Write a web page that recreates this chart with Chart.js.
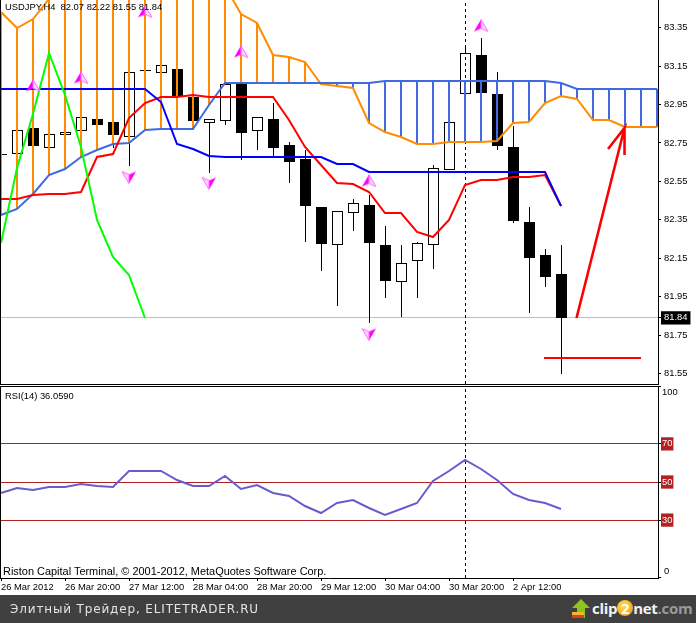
<!DOCTYPE html>
<html>
<head>
<meta charset="utf-8">
<title>USDJPY H4</title>
<script src="https://cdn.jsdelivr.net/npm/chart.js@4"></script>
<style>
    html, body { margin: 0; padding: 0; background: #fff; }
    #page { position: relative; width: 696px; height: 623px; overflow: hidden; font-family: "Liberation Sans", sans-serif; }
    canvas { position: absolute; left: 0; }
    .rule { position: absolute; background: #000; }
    .label { position: absolute; white-space: nowrap; color: #000; font-size: 9.4px; line-height: 12px; }
    #footer { position: absolute; left: 0; top: 595px; width: 696px; height: 28px; background: #404040; }
    #footer-title { position: absolute; left: 10px; top: 6px; color: #e4e4e4; font: 12px/16px "DejaVu Sans", sans-serif; letter-spacing: 0.85px; white-space: nowrap; }
    #logo { position: absolute; left: 592px; top: 2px; font: bold 15px/22px "Open Sans", sans-serif; color: #f2f2f2; white-space: nowrap; letter-spacing: -0.3px; }
    #logo .two { display: inline-block; width: 16px; height: 16px; line-height: 16px; text-align: center; border-radius: 8px; color: #fff; background: radial-gradient(circle at 40% 35%, #ffe14a, #f28a1c); }
    #logo .com { color: #9a9a9a; }
    #logo-icon { position: absolute; left: 571px; top: 3px; }
</style>
</head>
<body>
<div id="page">
    <canvas id="priceChart" width="696" height="384" style="top:0"></canvas>
    <canvas id="rsiChart" width="696" height="209" style="top:386px"></canvas>
    <div class="rule" style="left:0;top:0;width:1px;height:385px"></div>
    <div class="rule" style="left:0;top:384px;width:659px;height:1px"></div>
    <div class="rule" style="left:0;top:386px;width:659px;height:1px"></div>
    <div class="rule" style="left:0;top:386px;width:1px;height:192px"></div>
    <div class="label" style="left:5px;top:1px">USDJPY,H4&nbsp; 82.07 82.22 81.55 81.84</div>
    <div class="label" style="left:5px;top:390px">RSI(14) 36.0590</div>
    <div class="label" style="left:3px;top:565px;font-size:10.95px">Riston Capital Terminal, © 2001-2012, MetaQuotes Software Corp.</div>
    <div id="footer">
        <div id="footer-title">Элитный Трейдер, ELITETRADER.RU</div>
        <svg id="logo-icon" width="20" height="22" viewBox="0 0 20 22">
            <path d="M10 1 L19 10 L14 10 L14 20 L6 20 L6 10 L1 10 Z" fill="#8fc31f"/>
            <rect x="1" y="14" width="12" height="3" fill="#f5b52e"/>
            <rect x="1" y="17" width="12" height="3" fill="#d8431c"/>
        </svg>
        <div id="logo">clip<span class="two">2</span>net<span class="com">.com</span></div>
    </div>
</div>

<script>
// bar number on the time axis, one bar every 4 hours
const barIndex = [...Array(36).keys()];
const cloudIndex = [...Array(42).keys()];

const opens = [82.688, 82.693, 82.828, 82.724, 82.794, 82.812, 82.875, 82.859, 82.781, 83.125, 83.114, 83.135, 82.989, 82.854, 82.864, 83.057, 82.812, 82.875, 82.740, 82.667, 82.417, 82.219, 82.386, 82.427, 82.219, 82.027, 82.136, 82.219, 82.609, 83.005, 83.208, 83.005, 82.729, 82.339, 82.167, 82.07];
const highs = [82.693, 82.818, 82.828, 82.797, 82.805, 82.885, 82.875, 82.859, 83.119, 83.129, 83.156, 83.135, 82.989, 82.875, 83.057, 83.057, 82.885, 82.958, 82.755, 82.714, 82.417, 82.396, 82.459, 82.479, 82.318, 82.219, 82.235, 82.636, 82.859, 83.255, 83.296, 83.119, 82.838, 82.417, 82.198, 82.22];
const lows = [82.688, 82.693, 82.734, 82.724, 82.794, 82.812, 82.844, 82.724, 82.630, 83.125, 83.114, 82.995, 82.864, 82.594, 82.844, 82.662, 82.714, 82.677, 82.542, 82.235, 82.084, 81.902, 82.292, 81.813, 81.943, 81.845, 81.943, 82.094, 82.609, 83.005, 83.010, 82.714, 82.334, 81.865, 82.001, 81.55];
const closes = [82.693, 82.818, 82.734, 82.797, 82.805, 82.885, 82.844, 82.792, 83.119, 83.129, 83.156, 82.995, 82.864, 82.875, 83.057, 82.802, 82.885, 82.724, 82.651, 82.422, 82.224, 82.396, 82.438, 82.230, 82.032, 82.126, 82.230, 82.620, 82.859, 83.218, 83.010, 82.734, 82.344, 82.152, 82.053, 81.84];

// Ichimoku lines
const spanA = [83.432, 83.348, 83.395, 83.499, 83.56, 83.60, 83.62, 83.64, 83.64, 83.64, 83.62, 83.60, 83.58, 83.56, 83.567, 83.421, 83.374, 83.208, 83.197, 83.171, 83.057, 83.047, 83.034, 82.854, 82.807, 82.781, 82.745, 82.745, 82.755, 82.755, 82.755, 82.760, 82.854, 82.859, 82.958, 82.995, 82.979, 82.870, 82.870, 82.833, 82.833, 82.833];
const spanB = [82.375, 82.407, 82.485, 82.583, 82.615, 82.677, 82.714, 82.745, 82.750, 82.818, 82.823, 82.823, 82.823, 82.948, 83.062, 83.062, 83.062, 83.062, 83.062, 83.062, 83.062, 83.062, 83.062, 83.062, 83.073, 83.073, 83.073, 83.073, 83.073, 83.073, 83.073, 83.073, 83.073, 83.073, 83.073, 83.062, 83.031, 83.031, 83.031, 83.031, 83.031, 83.031];
const tenkan = [82.459, 82.459, 82.479, 82.484, 82.484, 82.495, 82.677, 82.693, 82.880, 82.958, 82.989, 82.989, 83.000, 82.989, 82.989, 82.989, 82.989, 82.989, 82.870, 82.729, 82.635, 82.542, 82.537, 82.495, 82.386, 82.386, 82.287, 82.261, 82.349, 82.531, 82.557, 82.557, 82.573, 82.573, 82.583, 82.422];
const kijun = [83.031, 83.031, 83.031, 83.031, 83.031, 83.031, 83.031, 83.031, 83.031, 83.031, 82.963, 82.745, 82.719, 82.682, 82.677, 82.677, 82.677, 82.677, 82.677, 82.677, 82.677, 82.641, 82.641, 82.599, 82.599, 82.599, 82.599, 82.599, 82.599, 82.599, 82.599, 82.599, 82.599, 82.599, 82.599, 82.422];
const chikou = [82.230, 82.620, 82.900, 83.218, 83.000, 82.729, 82.349, 82.157, 82.063, 81.84];

// fractal markers
const upFractalBars = [2, 5, 9, 15, 23, 30];
const upFractalPrices = [83.047, 83.088, 83.432, 83.223, 82.552, 83.359];
const downFractalBars = [8, 13, 23];
const downFractalPrices = [82.573, 82.542, 81.756];

// hand drawn marks on the screenshot
const supportBars = [33.94, 40];
const supportPrices = [81.631, 81.631];
const arrowBars = [35.97, 38.97, 37.94, 38.97, 38.97];
const arrowPrices = [81.84, 82.828, 82.719, 82.828, 82.687];

const rsiValues = [44.4, 46.7, 45.6, 47.2, 47.2, 48.8, 48.1, 47.2, 55.6, 55.6, 55.6, 51.2, 47.7, 47.7, 53.0, 46.5, 48.2, 44.2, 42.8, 37.5, 33.9, 39.1, 40.4, 36.5, 32.8, 36.0, 38.9, 50.4, 55.6, 61.4, 56.8, 50.9, 43.7, 40.5, 39.1, 36.059];

const priceTicks = [83.35, 83.15, 82.95, 82.75, 82.55, 82.35, 82.15, 81.95, 81.84, 81.75, 81.55];
const rsiTicks = [100, 70, 50, 30, 0];
const rsiLevels = [70, 50, 30];
const timeTickBars = [0, 4, 8, 12, 16, 20, 24, 28, 32];
const timeTickLabels = ['26 Mar 2012', '26 Mar 20:00', '27 Mar 12:00', '28 Mar 04:00', '28 Mar 20:00', '29 Mar 12:00', '30 Mar 04:00', '30 Mar 20:00', '2 Apr 12:00'];
const crosshairBar = 29;
const lastClose = 81.84;

const AXIS_FONT = { family: '"Liberation Sans", sans-serif', size: 9.4 };
const BAR_SHIFT = 0.03125; // candles sit half a pixel right of the line knots

// the terminal draws without antialiasing, so snap marks to whole pixels
const snapToPixels = {
    id: 'snapToPixels',
    afterDatasetsUpdate(chart) {
        chart.data.datasets.forEach((ds, i) => {
            const meta = chart.getDatasetMeta(i);
            meta.data.forEach(el => {
                if (meta.type === 'bar') {
                    const top = Math.round(Math.min(el.y, el.base));
                    const bottom = Math.round(Math.max(el.y, el.base));
                    el.y = top;
                    el.base = bottom === top ? top + 1 : bottom;
                    el.height = el.base - el.y;
                } else if (meta.type === 'line') {
                    el.y = Math.round(el.y);
                }
            });
        });
    }
};
Chart.register(snapToPixels);

function fractalIcon(up) {
    const c = document.createElement('canvas');
    c.width = 16;
    c.height = 15;
    const g = c.getContext('2d');
    const tip = up ? 1 : 14, base = up ? 13 : 2, notch = up ? 10 : 5;
    // solid half
    g.fillStyle = '#ff00ff';
    g.beginPath();
    if (up) {
        g.moveTo(8, tip); g.lineTo(1, base); g.lineTo(8, notch);
    } else {
        g.moveTo(8, tip); g.lineTo(15, base); g.lineTo(8, notch);
    }
    g.closePath();
    g.fill();
    // light half
    g.fillStyle = '#ffd6ff';
    g.strokeStyle = '#ff66ff';
    g.lineWidth = 1;
    g.beginPath();
    if (up) {
        g.moveTo(8, tip); g.lineTo(15, base); g.lineTo(8, notch);
    } else {
        g.moveTo(8, tip); g.lineTo(1, base); g.lineTo(8, notch);
    }
    g.closePath();
    g.fill();
    g.stroke();
    return c;
}

function zip(xs, ys) {
    return xs.map((x, i) => ({ x: x, y: ys[i] }));
}

function lineSet(data, color, width, order, extra) {
    return Object.assign({
        type: 'line',
        data: data,
        borderColor: color,
        borderWidth: width,
        pointRadius: 0,
        tension: 0,
        fill: false,
        order: order
    }, extra || {});
}

function barSet(data, thickness, fill, stroke, order) {
    return {
        type: 'bar',
        data: data,
        barThickness: thickness,
        grouped: false,
        backgroundColor: fill,
        borderColor: stroke,
        borderWidth: stroke ? 1 : 0,
        borderSkipped: false,
        inflateAmount: 0,
        order: order
    };
}

function fixedAxisSize(scale, width, height) {
    if (width) scale.width = width;
    if (height !== undefined && height !== null) scale.height = height;
    scale.paddingTop = scale.paddingBottom = scale.paddingLeft = scale.paddingRight = 0;
}

const commonX = { type: 'linear', min: -0.0625, max: 41.0625, offset: false };

// Price panel
new Chart(document.getElementById('priceChart'), {
    data: {
        datasets: [
            lineSet(zip(supportBars, supportPrices), '#ff0000', 2, 1),
            lineSet(zip(arrowBars, arrowPrices), '#ff0000', 2.6, 1),
            {
                type: 'scatter',
                data: zip(upFractalBars, upFractalPrices),
                pointStyle: fractalIcon(true),
                order: 2
            },
            {
                type: 'scatter',
                data: zip(downFractalBars, downFractalPrices),
                pointStyle: fractalIcon(false),
                order: 2
            },
            lineSet(zip(barIndex.slice(0, chikou.length), chikou), '#00ff00', 2, 3),
            lineSet(zip(barIndex, kijun), '#0000ff', 2, 4),
            lineSet(zip(barIndex, tenkan), '#ff0000', 2, 5),
            lineSet(zip(cloudIndex, spanB), '#4169e1', 2, 6),
            lineSet(zip(cloudIndex, spanA), '#ff8c00', 2, 7),
            barSet(cloudIndex.map(i => ({ x: i, y: [spanA[i], spanB[i]] })), 2,
                cloudIndex.map(i => spanA[i] > spanB[i] ? '#ff8c00' : '#4169e1'), null, 8),
            lineSet(zip([crosshairBar + BAR_SHIFT, crosshairBar + BAR_SHIFT], [81.496, 83.494]), '#000', 1, 9, { borderDash: [3, 3] }),
            barSet(barIndex.map(i => ({ x: i + BAR_SHIFT, y: [opens[i], closes[i]] })), 11,
                barIndex.map(i => closes[i] >= opens[i] ? '#fff' : '#000'), '#000', 10),
            barSet(barIndex.map(i => ({ x: i + BAR_SHIFT, y: [lows[i], highs[i]] })), 1, '#000', null, 11)
        ]
    },
    options: {
        responsive: false,
        animation: false,
        layout: { padding: 0, autoPadding: false },
        plugins: { legend: { display: false }, tooltip: { enabled: false } },
        scales: {
            x: Object.assign({
                afterFit: s => fixedAxisSize(s, null, 0),
                border: { display: false },
                grid: { display: false },
                ticks: { display: false }
            }, commonX),
            y: {
                position: 'right',
                min: 81.496,
                max: 83.494,
                afterBuildTicks: s => { s.ticks = priceTicks.map(v => ({ value: v })); },
                afterFit: s => fixedAxisSize(s, 38),
                border: { color: '#000' },
                grid: {
                    color: ctx => ctx.tick && ctx.tick.value === lastClose ? '#c0c0c0' : 'transparent',
                    tickColor: '#000',
                    tickLength: 3
                },
                ticks: {
                    autoSkip: false,
                    padding: 3,
                    font: AXIS_FONT,
                    color: ctx => ctx.tick.value === lastClose ? '#fff' : '#000',
                    showLabelBackdrop: ctx => ctx.tick.value === lastClose,
                    backdropColor: '#000',
                    backdropPadding: { x: 3, y: 1 },
                    callback: v => v.toFixed(2)
                }
            }
        }
    }
});

// 0 and 100 are pushed inside the panel by the terminal
const edgeLabels = {
    id: 'edgeLabels',
    afterDraw(chart) {
        const g = chart.ctx, y = chart.scales.y;
        g.save();
        g.font = '9.4px "Liberation Sans", sans-serif';
        g.fillStyle = '#000';
        g.textBaseline = 'middle';
        g.fillText('100', 662, y.getPixelForValue(100) + 6);
        g.fillText('0', 664, y.getPixelForValue(0) - 6);
        g.restore();
    }
};

// RSI panel
new Chart(document.getElementById('rsiChart'), {
    plugins: [edgeLabels],
    data: {
        datasets: [
            lineSet(zip(barIndex, rsiValues), '#6a5acd', 2, 1),
            lineSet(zip([crosshairBar + BAR_SHIFT, crosshairBar + BAR_SHIFT], [-0.4, 100.4]), '#000', 1, 2, { borderDash: [3, 3] })
        ]
    },
    options: {
        responsive: false,
        animation: false,
        layout: { padding: 0, autoPadding: false },
        plugins: { legend: { display: false }, tooltip: { enabled: false } },
        scales: {
            x: Object.assign({
                afterBuildTicks: s => { s.ticks = timeTickBars.map(v => ({ value: v })); },
                afterFit: s => fixedAxisSize(s, null, 17),
                border: { color: '#000' },
                grid: { drawOnChartArea: false, tickColor: '#000', tickLength: 3 },
                ticks: {
                    autoSkip: false,
                    maxRotation: 0,
                    align: 'start',
                    padding: 1,
                    font: AXIS_FONT,
                    color: '#000',
                    callback: v => timeTickLabels[timeTickBars.indexOf(v)]
                }
            }, commonX),
            y: {
                position: 'right',
                min: -0.4,
                max: 100.4,
                afterBuildTicks: s => { s.ticks = rsiTicks.map(v => ({ value: v })); },
                afterFit: s => fixedAxisSize(s, 38),
                border: { color: '#000' },
                grid: {
                    color: ctx => ctx.tick && rsiLevels.includes(ctx.tick.value) ? '#b22222' : 'transparent',
                    tickColor: '#000',
                    tickLength: 3
                },
                ticks: {
                    autoSkip: false,
                    padding: 1,
                    font: AXIS_FONT,
                    color: '#fff',
                    showLabelBackdrop: ctx => rsiLevels.includes(ctx.tick.value),
                    backdropColor: '#b22222',
                    backdropPadding: { x: 1, y: 1 },
                    callback: v => rsiLevels.includes(v) ? String(v) : ''
                }
            }
        }
    }
});
</script>
</body>
</html>
